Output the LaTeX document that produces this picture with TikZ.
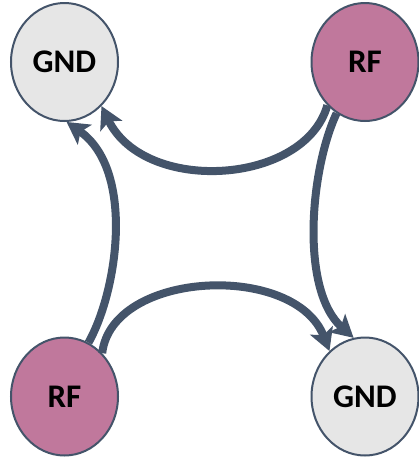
\documentclass[tikz,border=0pt]{standalone}
\usepackage{fontspec}
\setmainfont{Carlito}
\usetikzlibrary{arrows.meta,shapes.geometric}
\definecolor{slate}{HTML}{44546A}
\definecolor{rffill}{HTML}{C0789C}
\definecolor{gndfill}{HTML}{E6E6E6}
\begin{document}
\begin{tikzpicture}[x=1pt,y=-1pt,
  pad/.style={ellipse,draw=slate,line width=2pt,minimum width=107pt,minimum height=118pt,
    inner sep=0pt,font=\fontsize{33}{33}\selectfont\bfseries,text=black},
  gnd/.style={pad,fill=gndfill},
  rf/.style={pad,fill=rffill},
  link/.style={draw=slate,line width=8pt,
    -{Stealth[length=22pt,width=24pt,inset=5pt]}}]
\useasboundingbox (0,0) rectangle (419,459);
\node[gnd] (gndA) at (64.5,62) {GND};
\node[rf]  (rfA)  at (365,62) {RF};
\node[rf]  (rfB)  at (64.5,396.5) {RF};
\node[gnd] (gndB) at (365,396.5) {GND};
% top RF back to the upper GND
\draw[link] (rfA.229) .. controls (305,185) and (145,195) .. (gndA.310);
% top RF down to the lower GND
\draw[link] (rfA.241) .. controls (310,170) and (300,290) .. (gndB.101);
% bottom RF up to the upper GND
\draw[link] (rfB.66) .. controls (118,290) and (135,170) .. (gndA.272);
% bottom RF across to the lower GND
\draw[link] (rfB.49) .. controls (112,270) and (295,262) .. (gndB.128);
\end{tikzpicture}
\end{document}
